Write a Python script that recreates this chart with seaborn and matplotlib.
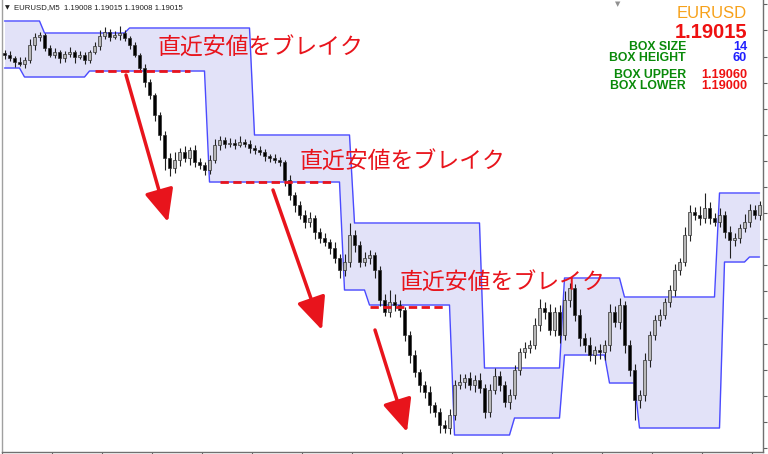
import numpy as np
import pandas as pd
import seaborn as sns
import matplotlib.pyplot as plt

# price data in points above 1.18800 (M5 candles)
base = 1.18800
first_open = 400
closes = [398, 395, 391, 389, 393, 408, 416, 418, 405, 398,
          401, 395, 399, 401, 396, 398, 393, 401, 407, 417,
          421, 416, 418, 420, 415, 408, 398, 385, 371, 358,
          338, 318, 295, 285, 293, 301, 295, 303, 291, 288,
          283, 293, 308, 313, 309, 310, 308, 311, 309, 305,
          303, 301, 297, 295, 293, 291, 273, 258, 248, 238,
          231, 235, 221, 215, 211, 205, 195, 183, 191, 218,
          208, 191, 195, 198, 183, 153, 141, 151, 148, 143,
          118, 98, 81, 68, 61, 48, 41, 28, 25, 38,
          68, 71, 75, 68, 73, 65, 41, 63, 77, 68,
          51, 58, 83, 101, 105, 108, 128, 145, 141, 123,
          141, 118, 153, 165, 138, 115, 108, 98, 103, 101,
          108, 141, 131, 148, 108, 83, 53, 58, 93, 118,
          133, 138, 151, 163, 183, 191, 218, 241, 238, 235,
          245, 235, 231, 238, 221, 213, 215, 225, 231, 243,
          238, 248]
upper_wick = [3, 4, 2, 5, 3, 6, 4, 3, 2, 3, 4, 2, 3, 5, 2, 4, 3, 2, 4, 6,
              5, 3, 4, 7, 3, 2, 3, 2, 4, 3, 2, 3, 4, 5, 8, 4, 6, 3, 5, 4,
              3, 5, 6, 4, 3, 5, 4, 6, 3, 4, 3, 4, 3, 2, 4, 3, 2, 5, 3, 4,
              5, 6, 3, 4, 5, 3, 6, 4, 8, 12, 5, 4, 6, 5, 3, 4, 6, 12, 8, 5,
              3, 4, 5, 3, 4, 6, 3, 4, 5, 6, 5, 8, 4, 6, 5, 7, 4, 6, 8, 5,
              4, 6, 5, 4, 6, 5, 7, 9, 6, 8, 5, 7, 9, 5, 4, 6, 5, 8, 4, 6,
              5, 8, 6, 7, 4, 5, 6, 5, 7, 4, 5, 6, 4, 5, 6, 4, 8, 7, 5, 9,
              15, 6, 5, 7, 4, 6, 5, 4, 8, 6, 5, 4]
lower_wick = [4, 3, 5, 2, 4, 3, 5, 4, 3, 2, 3, 5, 4, 3, 6, 2, 4, 3, 2, 4,
              3, 4, 2, 5, 3, 4, 2, 3, 5, 4, 6, 5, 12, 8, 5, 6, 4, 7, 5, 4,
              5, 4, 3, 5, 4, 3, 4, 2, 3, 5, 4, 3, 5, 4, 3, 4, 6, 5, 7, 4,
              6, 5, 7, 5, 4, 6, 5, 8, 6, 5, 7, 5, 4, 6, 8, 6, 4, 5, 6, 7,
              6, 8, 5, 7, 6, 8, 5, 8, 5, 6, 5, 4, 6, 5, 7, 5, 6, 5, 4, 6,
              5, 7, 4, 5, 6, 5, 4, 6, 7, 5, 6, 8, 5, 7, 6, 8, 7, 6, 9, 7,
              8, 6, 5, 7, 8, 6, 20, 8, 6, 7, 5, 6, 4, 5, 6, 5, 4, 6, 5, 7,
              5, 6, 4, 5, 6, 18, 6, 5, 4, 5, 4, 5]

# box channel as (level, number of bars)
box_upper_runs = [(432, 8), (420, 17), (425, 25), (318, 20), (230, 26),
                  (85, 16), (175, 12), (156, 19), (260, 9)]
box_lower_runs = [(385, 4), (376, 13), (382, 24), (271, 27), (163, 5),
                  (148, 17), (18, 12), (35, 10), (98, 9), (70, 6),
                  (25, 17), (191, 5), (196, 3)]

# broken recent lows: level, first bar, last bar
break_levels = [382, 271, 146]
break_start = [18.1, 43.1, 73.1]
break_end = [37.1, 66.1, 88.1]
# arrows (bar, points)
arrow_from = [(24.3, 378), (53.7, 263), (74.1, 123)]
arrow_to = [(32.7, 231), (63.5, 123), (80.5, 21)]
label_pos = [(30.7, 405), (59.1, 291), (79.1, 170)]
label_text = '直近安値をブレイク'

red = '#e8141c'

c = np.array(closes, dtype=float)
o = np.r_[first_open, c[:-1]]
hi = np.maximum(o, c) + np.array(upper_wick)
lo = np.minimum(o, c) - np.array(lower_wick)
idx = np.arange(len(c))
upper = np.repeat([v for v, n in box_upper_runs], [n for v, n in box_upper_runs])
lower = np.repeat([v for v, n in box_lower_runs], [n for v, n in box_lower_runs])

df = pd.DataFrame({'bar': idx, 'open': base + o / 1e5, 'high': base + hi / 1e5,
                   'low': base + lo / 1e5, 'close': base + c / 1e5,
                   'upper': base + upper / 1e5, 'lower': base + lower / 1e5})

sns.set_theme(style='white')
plt.rcParams['font.family'] = ['Noto Sans CJK JP', 'DejaVu Sans']

fig = plt.figure(figsize=(7.68, 4.54), dpi=100)
ax = fig.add_axes([2 / 768, 2 / 454, 761 / 768, 452 / 454])

ax.fill_between(df['bar'], df['lower'], df['upper'], color='#e2e2f8', lw=0, zorder=1)
sns.lineplot(data=df, x='bar', y='upper', color='#4a4aff', lw=1, ax=ax, zorder=2)
sns.lineplot(data=df, x='bar', y='lower', color='#4a4aff', lw=1, ax=ax, zorder=2)

# candles
ax.vlines(df['bar'], df['low'], df['high'], color='#202020', lw=0.8, zorder=3)
body_bot = np.minimum(df['open'], df['close'])
body_h = np.maximum(np.abs(df['close'] - df['open']), 1e-5)
face = np.where(df['close'] >= df['open'], '#b8b8b8', 'black')
ax.bar(df['bar'], body_h, bottom=body_bot, width=0.6, color=face,
       edgecolor='#303030', linewidth=0.5, zorder=4)

for lv, x0, x1 in zip(break_levels, break_start, break_end):
    ax.plot([x0, x1], [base + lv / 1e5] * 2, color=red, lw=2, ls=(0, (3, 1.6)), zorder=5)

for (x0, y0), (x1, y1) in zip(arrow_from, arrow_to):
    ax.annotate('', xy=(x1, base + y1 / 1e5), xytext=(x0, base + y0 / 1e5),
                arrowprops=dict(arrowstyle='-|>,head_length=1.0,head_width=0.45',
                                color=red, lw=2.5, mutation_scale=20,
                                shrinkA=0, shrinkB=0), zorder=6)

for x, y in label_pos:
    ax.text(x, base + y / 1e5, label_text, color=red, fontsize=16.5,
            ha='left', va='center', zorder=7)

ax.set_xlim(-0.5, 151.7)
ax.set_ylim(base + 1 / 1e5, base + 453 / 1e5)
ax.set_xticks(np.arange(-0.5, 152, 10))
ax.set_xticklabels([])
ax.yaxis.tick_right()
ax.set_yticks(base + np.arange(5, 453, 26.1) / 1e5)
ax.set_yticklabels([])
ax.tick_params(axis='both', direction='out', length=3, width=0.8, colors='#606060')
ax.tick_params(axis='x', bottom=True)
ax.tick_params(axis='y', right=True, left=False)
ax.set_xlabel('')
ax.set_ylabel('')
ax.spines['top'].set_visible(False)
ax.spines['left'].set_color('#a0a0a0')
ax.spines['bottom'].set_color('#707070')
ax.spines['right'].set_color('#707070')
for s in ['left', 'bottom', 'right']:
    ax.spines[s].set_linewidth(1)

# header and info panel
W, H = 768, 454
fig.text(5 / W, 1 - 8 / H, '▼', fontsize=4.5, color='#202020', va='center', family='DejaVu Sans')
fig.text(14 / W, 1 - 8 / H, 'EURUSD,M5  1.19008 1.19015 1.19008 1.19015', fontsize=5.6,
         color='#202020', va='center', family='Liberation Sans')
fig.text(618 / W, 1 - 4 / H, '▼', fontsize=5, color='#909090', ha='center', va='center',
         family='DejaVu Sans')

info = [('EURUSD', '#f7a11a', 12, 'normal', 14),
        ('1.19015', '#ee1111', 14.5, 'bold', 32)]
for t, col, fs, fw, yy in info:
    fig.text(747 / W, 1 - yy / H, t, color=col, fontsize=fs, weight=fw,
             ha='right', va='center', family='Liberation Sans')

box_names = ['BOX SIZE', 'BOX HEIGHT', 'BOX UPPER', 'BOX LOWER']
box_vals = ['14', '60', '1.19060', '1.19000']
box_val_colors = ['#2020ff', '#2020ff', '#ee1111', '#ee1111']
box_y = [47, 58, 75, 86]
for name, val, vc, yy in zip(box_names, box_vals, box_val_colors, box_y):
    fig.text(686 / W, 1 - yy / H, name, color='#0a8a0a', fontsize=8.8, weight='bold',
             ha='right', va='center', family='Liberation Sans')
    fig.text(747 / W, 1 - yy / H, val, color=vc, fontsize=9.2, weight='bold',
             ha='right', va='center', family='Liberation Sans')

fig.savefig('out.png', dpi=100, facecolor='white')
